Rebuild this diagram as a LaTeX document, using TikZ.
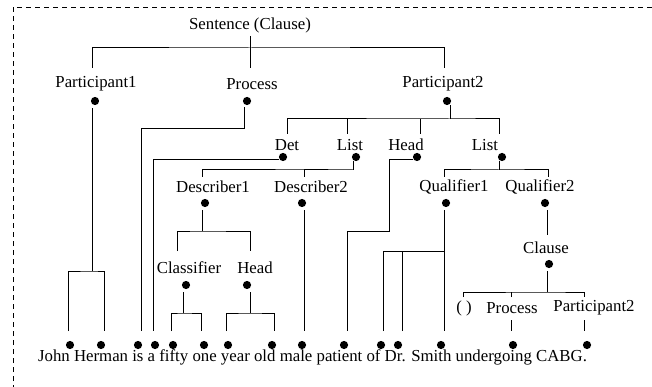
\documentclass[tikz,border=0pt]{standalone}
\usepackage{fontspec}
\setmainfont{Liberation Serif}
\begin{document}
\begin{tikzpicture}[x=1pt,y=-1pt,
  lbl/.style={inner sep=0pt, font=\fontsize{16.8}{18}\selectfont},
  dot/.style={circle, fill=black, draw=none, inner sep=0pt, minimum size=8.2pt},
  ln/.style={line width=1pt, line join=miter},
  frame/.style={line width=0.8pt, dash pattern=on 5pt off 4pt}]
\useasboundingbox (0,0) rectangle (652,387);

% outer dashed frame (only top and left edges fall inside the page)
\draw[frame] (13,390) -- (13,7) -- (656,7);

% ---- labels ----
\node[lbl] (S)   at (250,25)  {Sentence (Clause)};
\node[lbl] (P1)  at (96,84)   {Participant1};
\node[lbl] (PR)  at (252,84)  {Process};
\node[lbl] (P2)  at (443,84)  {Participant2};
\node[lbl] (Det) at (287,145) {Det};
\node[lbl] (L1)  at (350,145) {List};
\node[lbl] (H)   at (406,145) {Head};
\node[lbl] (L2)  at (485,145) {List};
\node[lbl] (D1)  at (213,187) {Describer1};
\node[lbl] (D2)  at (311,187) {Describer2};
\node[lbl] (C)   at (189,268) {Classifier};
\node[lbl] (HH)  at (255,268) {Head};
\node[lbl] (Q1)  at (454,187) {Qualifier1};
\node[lbl] (Q2)  at (540,187) {Qualifier2};
\node[lbl] (CL)  at (546,248) {Clause};
\node[lbl] (E)   at (464,308) {( )};
\node[lbl] (PB)  at (512,308) {Process};
\node[lbl] (PC)  at (594,308) {Participant2};
\node[lbl] (sent) at (312.5,357) {John Herman is a fifty one year old male patient of Dr. Smith undergoing CABG.};

% ---- dots under the labels ----
\node[dot] (dP1)  at (95,101)  {};
\node[dot] (dPR)  at (247,101) {};
\node[dot] (dP2)  at (447,101) {};
\node[dot] (dDet) at (283,157) {};
\node[dot] (dL1)  at (356,157) {};
\node[dot] (dH)   at (417,157) {};
\node[dot] (dL2)  at (502,157) {};
\node[dot] (dD1)  at (205,203) {};
\node[dot] (dD2)  at (302,203) {};
\node[dot] (dC)   at (186,285) {};
\node[dot] (dHH)  at (247,285) {};
\node[dot] (dQ1)  at (446,203) {};
\node[dot] (dQ2)  at (545,203) {};
\node[dot] (dCL)  at (549,264) {};

% ---- word dots ----
\foreach \i/\x in {1/70,2/101,3/138,4/155,5/173,6/204,7/228,8/272,9/302,10/344,11/381,12/398,13/441,14/513,15/587}
  \node[dot] (w\i) at (\x,345) {};

% ---- junction points ----
\coordinate (sS)  at (250,36);
\coordinate (jS)  at (250,48);
\coordinate (tP1) at (92,68);
\coordinate (tPR) at (250,68);
\coordinate (tP2) at (444,68);

\coordinate (jP2) at (450,119);
\coordinate (tDet) at (287,134);
\coordinate (tL1)  at (347,134);
\coordinate (tH)   at (420,134);
\coordinate (tL2)  at (499,134);

\coordinate (jL1) at (353,170);
\coordinate (tD1) at (202,177);
\coordinate (tD2) at (304,177);

\coordinate (jL2) at (499,170);
\coordinate (tQ1) at (444,177);
\coordinate (tQ2) at (548,177);

\coordinate (jD1) at (202,231);
\coordinate (tC)  at (177,251);
\coordinate (tHH) at (250,251);

\coordinate (jCL) at (547,292);
\coordinate (tE)  at (463,297);
\coordinate (tPB) at (511,297);
\coordinate (tPC) at (584,297);

% bottom ends of the leaf lines
\coordinate (e1)  at (68,331);
\coordinate (e2)  at (104,331);
\coordinate (e3)  at (141,331);
\coordinate (e4)  at (153,331);
\coordinate (e5)  at (171,331);
\coordinate (e6)  at (201,331);
\coordinate (e7)  at (226,331);
\coordinate (e8)  at (274,331);
\coordinate (e9)  at (304,331);
\coordinate (e10) at (347,331);
\coordinate (e11) at (383,331);
\coordinate (e12) at (402,331);
\coordinate (e13) at (444,331);
\coordinate (e14) at (511,331);
\coordinate (e15) at (584,331);

% ---- connectors ----
% Sentence
\draw[ln] (sS) -- (tPR);
\draw[ln] (tP1) |- (jS) -| (tP2);

% Participant1 -> John Herman
\coordinate (jP1) at (92,271);
\draw[ln] (dP1.south -| jP1) ++(0,3) -- (jP1);
\draw[ln] (e1) |- (jP1) -| (e2);

% Process -> is
\draw[ln] (dPR.south -| 244,0) ++(0,2) |- (141,129) -- (e3);

% Participant2
\draw[ln] (dP2.south -| jP2) -- (jP2);
\draw[ln] (tDet) |- (jP2) -| (tL2);
\draw[ln] (tL1) -- (tL1 |- jP2);
\draw[ln] (tH)  -- (tH |- jP2);

% Det -> a
\draw[ln] (dDet.west) ++(0,3) -| (e4);

% List -> Describer1, Describer2
\draw[ln] (dL1.south -| jL1) -- (jL1);
\draw[ln] (tD1) |- (jL1) -| (tD2);

% Head -> male
\draw[ln] (dH.west) ++(0,3) -| (389,231) -| (e10);

% List -> Qualifier1, Qualifier2
\draw[ln] (dL2.south -| jL2) -- (jL2);
\draw[ln] (tQ1) |- (jL2) -| (tQ2);

% Describer1 -> Classifier, Head
\draw[ln] (dD1.south -| jD1) ++(0,3) -- (jD1);
\draw[ln] (tC) |- (jD1) -| (tHH);

% Describer2 -> year
\draw[ln] (dD2.south -| e9) ++(0,3) -- (e9);

% Classifier -> fifty one
\coordinate (jC) at (183,313);
\draw[ln] (dC.south -| jC) ++(0,3) -- (jC);
\draw[ln] (e5) |- (jC) -| (e6);

% Head -> year old
\coordinate (jHH) at (250,313);
\draw[ln] (dHH.south -| jHH) ++(0,3) -- (jHH);
\draw[ln] (e7) |- (jHH) -| (e8);

% Qualifier1 -> of Dr. Smith
\coordinate (jQ1) at (444,251);
\draw[ln] (dQ1.south -| e13) ++(0,3) -- (e13);
\draw[ln] (e11) |- (jQ1);
\draw[ln] (e12) -- (e12 |- jQ1);

% Qualifier2 -> Clause
\draw[ln] (dQ2.south -| 547,0) ++(0,3) -- (547,235);

% Clause -> ( ) Process Participant2
\draw[ln] (dCL.south -| jCL) ++(0,3) -- (jCL);
\draw[ln] (tE) |- (jCL) -| (tPC);
\draw[ln] (tPB) -- (tPB |- jCL);

% Process, Participant2 -> words
\draw[ln] (511,320) -- (e14);
\draw[ln] (584,320) -- (e15);
\end{tikzpicture}
\end{document}
